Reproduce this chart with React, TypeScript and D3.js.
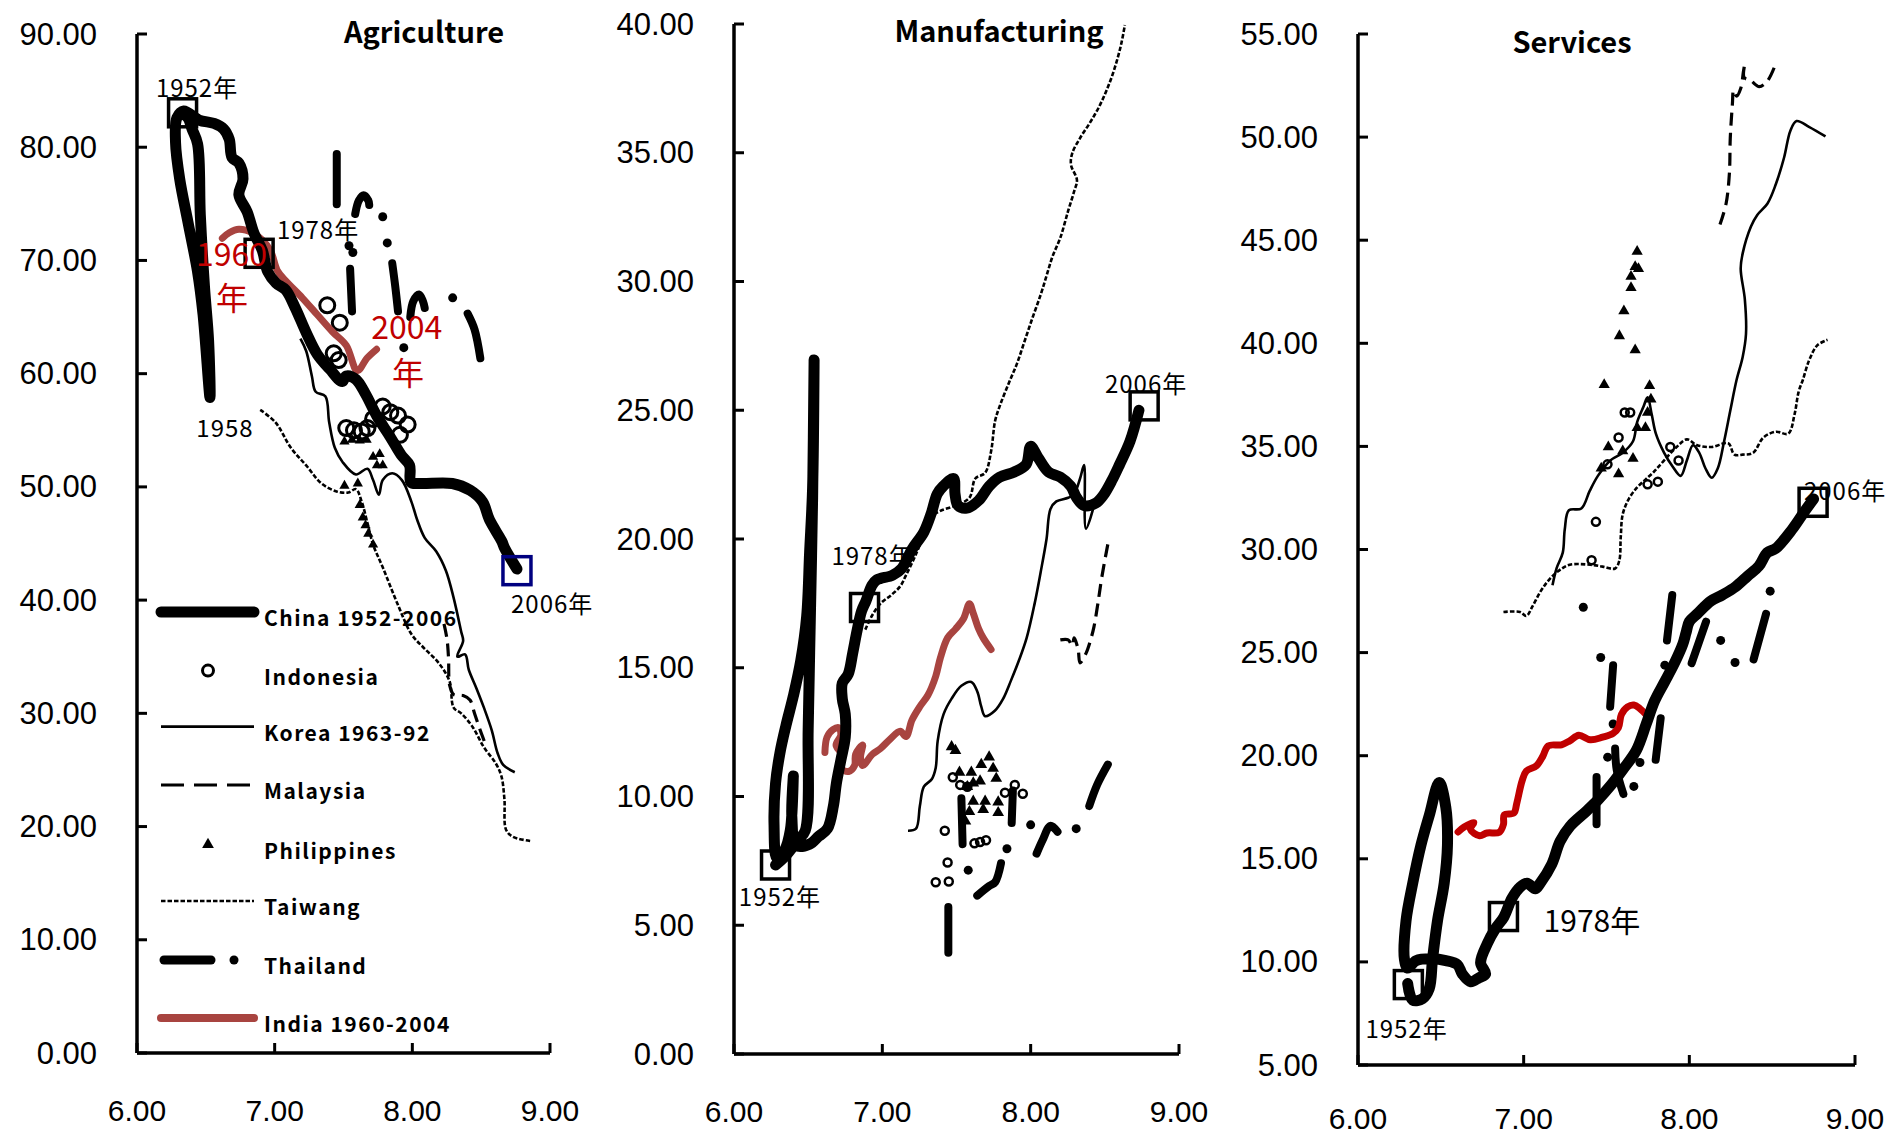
import React from 'react';
import * as d3 from 'd3';

type Pt = [number, number];

// ---------------- tick values / labels ----------------
const xTickValues = [6, 7, 8, 9];
const agYTickValues = [0, 10, 20, 30, 40, 50, 60, 70, 80, 90];
const mfYTickValues = [0, 5, 10, 15, 20, 25, 30, 35, 40];
const svYTickValues = [5, 10, 15, 20, 25, 30, 35, 40, 45, 50, 55];
const panelTitles = ['Agriculture', 'Manufacturing', 'Services'];
const legendLabels = ['China 1952-2006', 'Indonesia', 'Korea 1963-92', 'Malaysia', 'Philippines', 'Taiwang', 'Thailand', 'India 1960-2004'];

// ---------------- Agriculture ----------------
const agChina: Pt[] = [[6.33,83.0],[6.37,82.6],[6.40,81.6],[6.44,80.3],[6.46,74.0],[6.49,67.7],[6.52,62.9],[6.53,57.9],[6.48,65.2],[6.44,69.0],[6.37,73.4],[6.31,77.2],[6.28,80.4],[6.29,82.6],[6.34,83.2],[6.45,82.4],[6.56,82.1],[6.63,81.6],[6.67,80.7],[6.69,79.1],[6.74,78.6],[6.77,77.2],[6.74,75.8],[6.80,74.3],[6.85,72.4],[6.91,70.9],[6.95,69.0],[7.01,68.0],[7.08,67.4],[7.15,65.8],[7.23,63.6],[7.31,61.7],[7.40,60.4],[7.49,59.3],[7.52,59.8],[7.59,59.5],[7.66,58.2],[7.74,56.3],[7.84,54.4],[7.92,52.8],[7.98,51.9],[7.99,50.4],[8.06,50.3],[8.29,50.3],[8.42,49.7],[8.51,48.7],[8.56,47.1],[8.65,45.2],[8.67,44.6],[8.76,42.75]];
const agIndia: Pt[] = [[6.62,71.96],[6.67,72.44],[6.74,72.75],[6.84,72.44],[6.91,71.8],[6.97,70.85],[7.02,69.1],[7.08,68.2],[7.20,66.7],[7.31,65.2],[7.42,63.7],[7.52,62.5],[7.60,60.25],[7.67,61.36],[7.74,62.15]];
const agKorea: Pt[] = [[7.187,63.1],[7.229,62.0],[7.27,59.8],[7.298,58.4],[7.368,58.0],[7.396,55.7],[7.437,53.45],[7.493,52.2],[7.59,51.1],[7.674,51.6],[7.715,50.6],[7.757,49.3],[7.785,50.6],[7.854,51.2],[7.924,50.6],[7.993,48.7],[8.035,47.1],[8.09,45.5],[8.174,44.3],[8.244,42.6],[8.3,40.2],[8.355,37.2],[8.369,36.4],[8.327,35.0],[8.383,35.2],[8.41,33.85],[8.466,32.2],[8.52,30.5],[8.577,28.5],[8.619,26.5],[8.66,25.45],[8.744,24.8]];
const agMalaysia: Pt[] = [[8.23,37.9],[8.252,36.54],[8.263,34.86],[8.271,32.5],[8.3,31.67],[8.369,31.57],[8.419,31.17],[8.452,29.99],[8.494,28.48],[8.53,27.3]];
const agTaiwan: Pt[] = [[6.895,56.8],[7.006,55.7],[7.118,53.45],[7.229,51.9],[7.34,50.3],[7.45,49.6],[7.535,49.5],[7.59,49.8],[7.632,48.7],[7.674,46.8],[7.715,44.9],[7.785,42.9],[7.896,39.56],[7.993,37.0],[8.09,35.7],[8.188,34.5],[8.27,32.85],[8.3,30.5],[8.355,30.0],[8.438,28.8],[8.52,27.0],[8.605,25.6],[8.647,24.45],[8.669,22.4],[8.68,19.75],[8.73,19.1],[8.87,18.7]];
const agIndonesia: Pt[] = [[7.382,66.04],[7.473,64.5],[7.429,61.8],[7.465,61.2],[7.52,55.2],[7.576,55.0],[7.632,54.9],[7.674,55.2],[7.715,56.0],[7.785,57.1],[7.84,56.6],[7.896,56.3],[7.966,55.5],[7.91,54.6]];
const agPhilippines: Pt[] = [[7.507,54.0],[7.562,54.15],[7.618,54.1],[7.668,54.15],[7.715,52.66],[7.763,52.9],[7.785,51.9],[7.743,51.9],[7.507,50.1],[7.604,50.3],[7.618,48.4],[7.64,47.3],[7.66,46.6],[7.68,45.85],[7.715,44.9]];
const agThaiDashes: Pt[][] = [
  [[7.451,79.4],[7.451,74.97]],
  [[7.585,74.1],[7.612,75.3],[7.646,75.76],[7.68,75.3],[7.687,74.9]],
  [[7.548,69.27],[7.562,65.5]],
  [[7.854,69.75],[7.876,67.7],[7.896,65.5]],
  [[7.985,65.0],[8.007,66.4],[8.049,67.0],[8.077,66.4],[8.09,65.8]],
  [[8.402,65.3],[8.452,63.9],[8.494,61.36]],
];
const agThaiDots: Pt[] = [[7.54,71.3],[7.568,70.7],[7.785,73.86],[7.818,71.55],[7.938,62.3],[8.293,66.7]];

// ---------------- Manufacturing ----------------
const mfChina: Pt[] = [[6.28,7.34],[6.35,7.71],[6.43,8.3],[6.48,8.67],[6.50,12.6],[6.51,15.6],[6.52,18.5],[6.53,21.6],[6.54,26.95],[6.53,22.0],[6.51,19.5],[6.49,17.0],[6.45,15.27],[6.40,13.9],[6.35,12.75],[6.31,11.7],[6.28,10.5],[6.27,8.9],[6.29,7.6],[6.34,7.9],[6.38,8.7],[6.40,10.8],[6.39,9.2],[6.42,8.1],[6.51,8.15],[6.57,8.45],[6.63,8.75],[6.67,9.63],[6.69,10.5],[6.72,11.4],[6.75,12.3],[6.75,13.2],[6.73,13.8],[6.73,14.4],[6.77,14.75],[6.80,15.56],[6.83,16.45],[6.86,17.2],[6.89,17.6],[6.93,18.2],[6.96,18.4],[7.07,18.6],[7.13,18.85],[7.2,19.6],[7.28,20.27],[7.33,21.0],[7.37,21.75],[7.41,22.05],[7.48,22.35],[7.49,21.75],[7.51,21.3],[7.57,21.2],[7.65,21.5],[7.72,22.05],[7.79,22.4],[7.89,22.6],[7.97,22.9],[8.0,23.6],[8.05,23.16],[8.12,22.6],[8.2,22.4],[8.27,22.05],[8.31,21.6],[8.36,21.3],[8.44,21.4],[8.49,21.7],[8.55,22.3],[8.6,22.9],[8.67,23.8],[8.73,25.0]];
const mfIndia: Pt[] = [[6.613,11.71],[6.627,12.3],[6.667,12.6],[6.707,12.67],[6.72,12.38],[6.688,12.0],[6.725,11.64],[6.715,11.12],[6.773,10.97],[6.813,11.2],[6.82,11.64],[6.867,12.0],[6.853,11.53],[6.867,11.2],[6.933,11.64],[6.987,11.86],[7.053,12.23],[7.12,12.53],[7.16,12.33],[7.2,12.97],[7.253,13.49],[7.307,13.93],[7.36,14.67],[7.392,15.4],[7.44,16.16],[7.493,16.5],[7.547,16.9],[7.587,17.49],[7.613,17.12],[7.648,16.53],[7.68,16.16],[7.733,15.71]];
const mfKorea: Pt[] = [[7.173,8.67],[7.227,8.75],[7.253,9.63],[7.28,10.38],[7.333,10.67],[7.36,11.12],[7.373,12.15],[7.413,13.2],[7.467,13.8],[7.533,14.3],[7.6,14.45],[7.64,14.08],[7.667,13.49],[7.693,13.12],[7.76,13.34],[7.813,13.78],[7.867,14.5],[7.92,15.27],[7.973,16.16],[8.027,17.5],[8.067,18.7],[8.107,20.0],[8.133,21.16],[8.173,21.46],[8.253,21.6],[8.293,21.75],[8.333,22.35],[8.36,22.87],[8.373,20.4],[8.427,21.3]];
const mfTaiwan: Pt[] = [[6.885,16.48],[6.933,17.05],[6.992,17.52],[7.053,17.79],[7.12,18.16],[7.16,18.6],[7.213,19.23],[7.267,19.97],[7.333,20.86],[7.387,21.08],[7.493,21.3],[7.587,21.6],[7.627,22.35],[7.693,22.57],[7.733,23.4],[7.76,24.58],[7.792,25.17],[7.853,26.06],[7.907,26.8],[7.96,27.7],[8.013,28.6],[8.067,29.48],[8.107,30.22],[8.147,30.97],[8.2,31.7],[8.253,32.75],[8.293,33.5],[8.312,33.94],[8.272,34.53],[8.28,34.98],[8.333,35.57],[8.4,36.17],[8.459,36.76],[8.507,37.36],[8.547,37.95],[8.587,38.69],[8.613,39.29],[8.635,39.96]];
const mfMalaysia: Pt[] = [[8.52,19.79],[8.48,18.53],[8.453,17.49],[8.427,16.6],[8.4,16.0],[8.373,15.56],[8.333,15.19],[8.32,15.71],[8.293,16.16],[8.28,15.86],[8.253,16.08],[8.2,16.08]];
const mfIndonesia: Pt[] = [[7.475,10.75],[7.525,10.45],[7.573,10.38],[7.827,10.15],[7.893,10.45],[7.947,10.11],[7.421,8.67],[7.621,8.18],[7.659,8.23],[7.699,8.3],[7.44,7.44],[7.36,6.67],[7.448,6.7]];
const mfPhilippines: Pt[] = [[7.467,11.93],[7.493,11.78],[7.52,10.94],[7.6,10.94],[7.667,11.24],[7.72,11.53],[7.747,11.09],[7.613,10.52],[7.659,10.6],[7.768,10.7],[7.573,10.38],[7.613,9.81],[7.693,9.81],[7.781,9.78],[7.68,9.49],[7.781,9.37],[7.587,9.41],[7.56,9.04]];
const mfThaiDashes: Pt[][] = [
  [[7.445,5.71],[7.445,3.93]],
  [[7.533,9.93],[7.541,8.15]],
  [[7.64,6.15],[7.72,6.52],[7.76,6.67],[7.8,7.41]],
  [[7.88,10.23],[7.872,8.97]],
  [[8.04,7.78],[8.08,8.3],[8.133,8.86],[8.181,8.63]],
  [[8.395,9.63],[8.448,10.45],[8.52,11.24]],
];
const mfThaiDots: Pt[] = [[7.579,7.14],[7.84,7.97],[8.0,8.9],[8.307,8.75]];

// ---------------- Services ----------------
const svChina: Pt[] = [[6.30,8.95],[6.33,8.15],[6.39,8.22],[6.43,8.7],[6.45,10.15],[6.48,12.0],[6.52,13.8],[6.54,15.66],[6.53,17.5],[6.49,18.7],[6.43,17.1],[6.38,15.66],[6.33,13.8],[6.29,12.0],[6.28,10.15],[6.30,9.7],[6.35,10.06],[6.45,10.15],[6.53,10.06],[6.60,9.87],[6.63,9.41],[6.68,9.04],[6.73,9.23],[6.77,9.41],[6.74,9.96],[6.78,10.88],[6.83,11.62],[6.88,12.17],[6.93,13.1],[6.98,13.64],[7.02,13.82],[7.07,13.55],[7.10,13.82],[7.17,14.74],[7.22,15.85],[7.28,16.58],[7.38,17.32],[7.45,17.87],[7.53,18.6],[7.60,19.34],[7.68,20.26],[7.74,21.54],[7.79,22.65],[7.85,23.57],[7.91,24.49],[7.96,25.4],[7.98,25.96],[8.0,26.5],[8.05,26.9],[8.13,27.5],[8.2,27.8],[8.28,28.2],[8.35,28.7],[8.42,29.2],[8.47,29.85],[8.52,30.04],[8.62,30.97],[8.70,31.9],[8.75,32.45]];
const svIndia: Pt[] = [[6.604,16.3],[6.641,16.54],[6.699,16.76],[6.679,16.43],[6.734,16.12],[6.779,16.25],[6.853,16.29],[6.878,16.67],[6.883,17.13],[6.941,17.22],[6.958,17.68],[6.991,18.79],[7.016,19.25],[7.078,19.52],[7.116,19.98],[7.148,20.48],[7.228,20.53],[7.278,20.72],[7.333,20.99],[7.403,20.77],[7.477,20.9],[7.54,21.08],[7.572,21.36],[7.59,22.0],[7.627,22.37],[7.665,22.46],[7.702,22.28],[7.739,22.0]];
const svKorea: Pt[] = [[7.174,28.27],[7.199,29.1],[7.236,29.85],[7.248,30.97],[7.273,31.9],[7.348,31.99],[7.398,32.83],[7.448,33.57],[7.523,34.32],[7.598,34.69],[7.66,35.25],[7.685,36.18],[7.723,36.92],[7.748,37.38],[7.773,36.55],[7.798,35.62],[7.848,34.69],[7.898,34.04],[7.948,33.57],[7.985,34.32],[8.022,35.06],[8.06,34.69],[8.097,33.94],[8.135,33.48],[8.172,33.94],[8.21,35.25],[8.247,36.73],[8.285,38.22],[8.322,39.34],[8.342,40.45],[8.335,42.13],[8.31,43.62],[8.322,44.36],[8.372,45.66],[8.41,46.22],[8.472,46.78],[8.522,47.71],[8.572,49.01],[8.61,50.31],[8.647,50.78],[8.722,50.5],[8.822,50.03]];
const svTaiwan: Pt[] = [[6.878,26.97],[6.978,26.97],[7.016,26.78],[7.053,27.24],[7.103,27.98],[7.153,28.53],[7.215,28.99],[7.278,29.26],[7.403,29.26],[7.477,29.17],[7.552,29.08],[7.577,29.45],[7.586,30.6],[7.598,31.71],[7.635,32.46],[7.685,33.01],[7.735,33.39],[7.785,33.76],[7.848,34.32],[7.923,34.97],[7.985,35.34],[8.047,35.06],[8.135,34.97],[8.235,35.15],[8.272,34.6],[8.322,34.6],[8.385,34.69],[8.447,35.43],[8.522,35.71],[8.597,35.62],[8.635,36.55],[8.66,37.66],[8.685,38.22],[8.722,39.15],[8.772,39.9],[8.834,40.17]];
const svMalaysia: Pt[] = [[8.185,45.76],[8.222,46.78],[8.242,48.27],[8.247,49.94],[8.26,51.61],[8.267,52.27],[8.285,51.99],[8.31,52.36],[8.327,53.2],[8.335,53.57],[8.33,52.9],[8.372,52.73],[8.422,52.45],[8.472,52.73],[8.522,53.57]];
const svIndonesia: Pt[] = [[7.41,29.48],[7.436,31.34],[7.506,34.13],[7.573,35.43],[7.61,36.64],[7.643,36.64],[7.748,33.16],[7.81,33.29],[7.885,34.97],[7.935,34.32]];
const svPhilippines: Pt[] = [[7.685,44.45],[7.673,43.71],[7.693,43.62],[7.648,43.24],[7.648,42.69],[7.605,41.57],[7.578,40.36],[7.673,39.67],[7.486,37.99],[7.76,37.94],[7.768,37.29],[7.748,36.64],[7.685,35.9],[7.735,35.9],[7.511,34.97],[7.598,34.78],[7.66,34.41],[7.468,33.94],[7.573,33.66]];
const svThaiDashes: Pt[][] = [
  [[7.897,27.79],[7.865,25.59]],
  [[8.014,24.49],[8.101,26.5]],
  [[8.388,24.67],[8.463,26.88]],
  [[7.827,21.82],[7.797,19.8]],
  [[7.552,20.35],[7.562,19.3],[7.602,18.14]],
  [[7.44,18.97],[7.44,16.67]],
  [[7.54,24.39],[7.522,22.37]],
];
const svThaiDots: Pt[] = [[7.852,24.39],[8.189,25.59],[8.276,24.52],[8.488,27.98],[7.702,19.67],[7.665,18.51],[7.507,19.93],[7.54,21.54],[7.465,24.76],[7.36,27.2]];

// ---------------- year markers & annotations ----------------
const agYearBoxes: Pt[] = [[6.331,83.04],[6.887,70.63],[8.76,42.6]];
const mfYearBoxes: Pt[] = [[6.28,7.34],[6.88,17.34],[8.765,25.17]];
const svYearBoxes: Pt[] = [[6.304,8.9],[6.878,12.2],[8.747,32.29]];

type Note = { text: string; x: number; y: number; anchor?: string; big?: number; red?: boolean };
const agNotes: Note[] = [
  { text: '1952年', x: 6.436, y: 85.4 },
  { text: '1958', x: 6.639, y: 55.3 },
  { text: '1978年', x: 7.315, y: 72.8 },
  { text: '2006年', x: 8.717, y: 39.75, anchor: 'start' },
  { text: '1960', x: 6.686, y: 70.76, big: 32, red: true },
  { text: '年', x: 6.69, y: 66.87, big: 32, red: true },
  { text: '2004', x: 7.959, y: 64.3, big: 32, red: true },
  { text: '年', x: 7.968, y: 60.25, big: 32, red: true },
];
const mfNotes: Note[] = [
  { text: '1952年', x: 6.31, y: 6.14 },
  { text: '1978年', x: 6.934, y: 19.38 },
  { text: '2006年', x: 8.778, y: 26.06 },
];
const svNotes: Note[] = [
  { text: '1952年', x: 6.293, y: 6.84 },
  { text: '1978年', x: 7.412, y: 12.08, big: 30 },
  { text: '2006年', x: 8.692, y: 32.89, anchor: 'start' },
];

// ---------------- layout (pixels) ----------------
const FRAMES = {
  ag: { left: 137, right: 550, bottom: 1053, top: 34, xLabelDy: 57 },
  mf: { left: 734, right: 1179, bottom: 1054, top: 24, xLabelDy: 57 },
  sv: { left: 1358, right: 1855, bottom: 1065, top: 34, xLabelDy: 53 },
};
const TITLE_POS = [[424, 30], [999, 29], [1572, 40]];

const TICK_FONT = "'Liberation Sans', Arial, sans-serif";
const CJK_FONT = "'Noto Sans CJK JP', 'Noto Sans', sans-serif";
const INDIA_BROWN = '#a84440';
const INDIA_RED = '#c00000';

const curve = d3.curveCatmullRom.alpha(0.5);

type Frame = { left: number; right: number; bottom: number; top: number; xLabelDy: number };

function Panel(props: {
  frame: Frame; yDomain: [number, number]; yTicks: number[]; title: string; titlePos: number[];
  china: Pt[]; india: Pt[]; indiaColor: string; korea: Pt[]; taiwan: Pt[]; malaysia: Pt[];
  indonesia: Pt[]; philippines: Pt[]; thaiDashes: Pt[][]; thaiDots: Pt[];
  boxes: Pt[]; notes: Note[]; circleR: number; triSize: number; navyLast?: boolean;
}) {
  const { frame: f } = props;
  const x = d3.scaleLinear().domain([6, 9]).range([f.left, f.right]);
  const y = d3.scaleLinear().domain(props.yDomain).range([f.bottom, f.top]);
  const line = d3.line<Pt>().x(d => x(d[0])).y(d => y(d[1])).curve(curve);
  const fmt = d3.format('.2f');
  const tri = d3.symbol().type(d3.symbolTriangle).size(props.triSize)() as string;
  return (
    <g>
      {/* axes */}
      <line x1={f.left} x2={f.left} y1={f.top} y2={f.bottom} stroke="#000" strokeWidth={3.5} />
      <line x1={f.left} x2={f.right} y1={f.bottom} y2={f.bottom} stroke="#000" strokeWidth={3.5} />
      {props.yTicks.map(t => (
        <g key={'y' + t}>
          <line x1={f.left} x2={f.left + 10} y1={y(t)} y2={y(t)} stroke="#000" strokeWidth={3} />
          <text x={f.left - 40} y={y(t)} textAnchor="end" dominantBaseline="central"
            fontFamily={TICK_FONT} fontSize={31} fill="#000">{fmt(t)}</text>
        </g>
      ))}
      {xTickValues.map(t => (
        <g key={'x' + t}>
          <line x1={x(t)} x2={x(t)} y1={f.bottom} y2={f.bottom - 10} stroke="#000" strokeWidth={3} />
          <text x={x(t)} y={f.bottom + f.xLabelDy} textAnchor="middle" dominantBaseline="central"
            fontFamily={TICK_FONT} fontSize={30} fill="#000">{fmt(t)}</text>
        </g>
      ))}
      <text x={props.titlePos[0]} y={props.titlePos[1]} textAnchor="middle" dominantBaseline="central"
        fontFamily={CJK_FONT} fontWeight="bold" fontSize={29} fill="#000">{props.title}</text>

      {/* series */}
      <path d={line(props.taiwan) || ''} fill="none" stroke="#000" strokeWidth={2.6} strokeDasharray="4.5 2" />
      <path d={line(props.korea) || ''} fill="none" stroke="#000" strokeWidth={2.6} />
      <path d={line(props.malaysia) || ''} fill="none" stroke="#000" strokeWidth={3.2} strokeDasharray="13 7" />
      {props.thaiDashes.map((s, i) => (
        <path key={'td' + i} d={line(s) || ''} fill="none" stroke="#000" strokeWidth={8} strokeLinecap="round" strokeLinejoin="round" />
      ))}
      {props.thaiDots.map((p, i) => (
        <circle key={'tp' + i} cx={x(p[0])} cy={y(p[1])} r={4.5} fill="#000" />
      ))}
      {props.indonesia.map((p, i) => (
        <circle key={'in' + i} cx={x(p[0])} cy={y(p[1])} r={props.circleR} fill="none" stroke="#000" strokeWidth={props.circleR > 5 ? 3 : 2.5} />
      ))}
      {props.philippines.map((p, i) => (
        <path key={'ph' + i} d={tri} transform={`translate(${x(p[0])},${y(p[1])})`} fill="#000" />
      ))}
      <path d={line(props.india) || ''} fill="none" stroke={props.indiaColor} strokeWidth={7} strokeLinecap="round" strokeLinejoin="round" />
      <path d={line(props.china) || ''} fill="none" stroke="#000" strokeWidth={11} strokeLinecap="round" strokeLinejoin="round" />

      {/* year boxes */}
      {props.boxes.map((p, i) => (
        <rect key={'b' + i} x={x(p[0]) - 14} y={y(p[1]) - 14} width={28} height={28} fill="none"
          stroke={props.navyLast && i === props.boxes.length - 1 ? '#000080' : '#000'} strokeWidth={3.5} />
      ))}
      {props.notes.map((n, i) => (
        <text key={'n' + i} x={x(n.x)} y={y(n.y)} textAnchor={n.anchor || 'middle'} dominantBaseline="central"
          fontFamily={CJK_FONT} fontSize={n.big || 24} letterSpacing={n.big ? 0 : 1}
          fill={n.red ? INDIA_RED : '#000'}>{n.text}</text>
      ))}
    </g>
  );
}

function Legend() {
  const rows = [612, 670.6, 726.6, 785, 844.6, 901, 960, 1018];
  const x0 = 161, x1 = 254, tx = 264, mx = 208;
  const tri = d3.symbol().type(d3.symbolTriangle).size(60)() as string;
  const samples = [
    <line x1={x0} x2={x1} y1={rows[0]} y2={rows[0]} stroke="#000" strokeWidth={11} strokeLinecap="round" />,
    <circle cx={mx} cy={rows[1]} r={5.5} fill="none" stroke="#000" strokeWidth={3} />,
    <line x1={x0} x2={x1} y1={rows[2]} y2={rows[2]} stroke="#000" strokeWidth={2.6} />,
    <line x1={x0} x2={x1} y1={rows[3]} y2={rows[3]} stroke="#000" strokeWidth={3.2} strokeDasharray="23 10" />,
    <path d={tri} transform={`translate(${mx},${rows[4]})`} fill="#000" />,
    <line x1={x0} x2={x1} y1={rows[5]} y2={rows[5]} stroke="#000" strokeWidth={2.6} strokeDasharray="4.5 2" />,
    <g><line x1={x0 + 3} x2={x0 + 50} y1={rows[6]} y2={rows[6]} stroke="#000" strokeWidth={9} strokeLinecap="round" />
      <circle cx={234} cy={rows[6]} r={4.5} fill="#000" /></g>,
    <line x1={x0} x2={x1} y1={rows[7]} y2={rows[7]} stroke={INDIA_BROWN} strokeWidth={8} strokeLinecap="round" />,
  ];
  return (
    <g>
      {legendLabels.map((lab, i) => (
        <g key={lab}>
          {samples[i]}
          <text x={tx} y={rows[i] + 5} dominantBaseline="central" fontFamily={CJK_FONT} fontWeight="bold"
            fontSize={21} letterSpacing={1.5} fill="#000">{lab}</text>
        </g>
      ))}
    </g>
  );
}

export default function App() {
  return (
    <svg width={1888} height={1137} viewBox="0 0 1888 1137"
      style={{ position: 'absolute', left: 0, top: 0, background: '#fff' }}>
      <rect x={0} y={0} width={1888} height={1137} fill="#fff" />
      <Panel frame={FRAMES.ag} yDomain={[0, 90]} yTicks={agYTickValues} title={panelTitles[0]} titlePos={TITLE_POS[0]}
        china={agChina} india={agIndia} indiaColor={INDIA_BROWN} korea={agKorea} taiwan={agTaiwan} malaysia={agMalaysia}
        indonesia={agIndonesia} philippines={agPhilippines} thaiDashes={agThaiDashes} thaiDots={agThaiDots}
        boxes={agYearBoxes} notes={agNotes} circleR={7.5} triSize={45} navyLast />
      <Legend />
      <Panel frame={FRAMES.mf} yDomain={[0, 40]} yTicks={mfYTickValues} title={panelTitles[1]} titlePos={TITLE_POS[1]}
        china={mfChina} india={mfIndia} indiaColor={INDIA_BROWN} korea={mfKorea} taiwan={mfTaiwan} malaysia={mfMalaysia}
        indonesia={mfIndonesia} philippines={mfPhilippines} thaiDashes={mfThaiDashes} thaiDots={mfThaiDots}
        boxes={mfYearBoxes} notes={mfNotes} circleR={4} triSize={60} />
      <Panel frame={FRAMES.sv} yDomain={[5, 55]} yTicks={svYTickValues} title={panelTitles[2]} titlePos={TITLE_POS[2]}
        china={svChina} india={svIndia} indiaColor={INDIA_RED} korea={svKorea} taiwan={svTaiwan} malaysia={svMalaysia}
        indonesia={svIndonesia} philippines={svPhilippines} thaiDashes={svThaiDashes} thaiDots={svThaiDots}
        boxes={svYearBoxes} notes={svNotes} circleR={4} triSize={55} />
    </svg>
  );
}
